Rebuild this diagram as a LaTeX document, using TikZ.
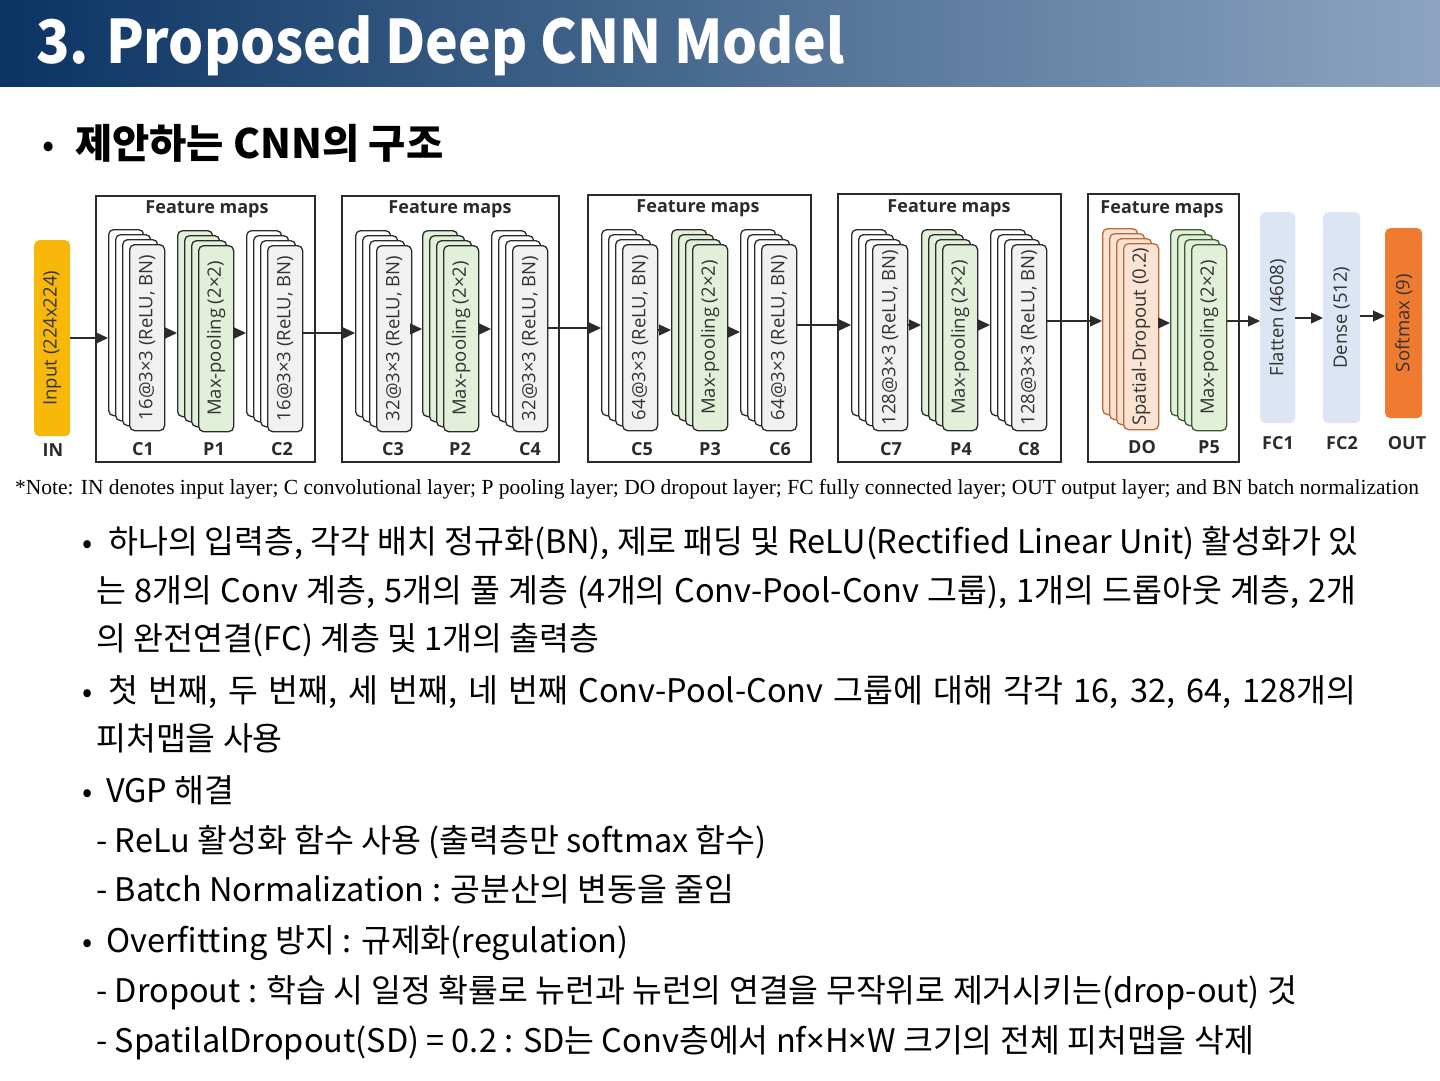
\documentclass[tikz,border=0pt]{standalone}
\usepackage{fontspec}
\setmainfont{Noto Sans CJK KR}
\newfontfamily\figfont{Open Sans}
\newfontfamily\notefont{Liberation Serif}
\newfontfamily\latfont{Noto Sans}
\usetikzlibrary{arrows.meta,calc}

\definecolor{navyL}{HTML}{0B3463}
\definecolor{navyR}{HTML}{8CA4C0}
\definecolor{inputc}{HTML}{F7B80A}
\definecolor{outc}{HTML}{EE7B30}
\definecolor{fcc}{HTML}{DCE5F3}
\definecolor{poolc}{HTML}{E2EFD9}
\definecolor{convc}{HTML}{F1F1F1}
\definecolor{dropc}{HTML}{FBE3D3}
\definecolor{dropd}{HTML}{B86A3C}
\definecolor{poold}{HTML}{3E5A30}
\definecolor{ink}{HTML}{2B2B2B}
\definecolor{txtc}{HTML}{333333}

\newcommand\ltxt[1]{\rotatebox{90}{\figfont\fontsize{18.5}{18.5}\selectfont\color{txtc}#1}}

\tikzset{
  layer/.style={rounded corners=5pt, line width=1.3pt, minimum width=35pt,
    minimum height=186pt, inner sep=0pt, anchor=north west},
  fmbox/.style={draw=ink, line width=1.6pt, anchor=north west, inner sep=0pt},
  fmtitle/.style={font=\figfont\bfseries\fontsize{18}{18}\selectfont, text=ink},
  lab/.style={font=\figfont\bfseries\fontsize{18}{18}\selectfont, text=ink},
  solid/.style={rounded corners=5pt, inner sep=0pt, anchor=north west},
  arr/.style={draw=ink, line width=1.1pt, -{Triangle[length=12pt,width=11pt]}},
  body/.style={anchor=base west, inner sep=0pt, font=\fontsize{32.5}{34}\selectfont, text=black},
  bul/.style={anchor=base west, inner sep=0pt, font=\fontsize{30}{30}\selectfont, text=black}
}

% stack of four offset layer sheets; #1 name, #2/#3 top-left of front sheet,
% #4 fill of back sheets, #5 fill of front sheet, #6 stroke, #7 text
\newcommand\fmstack[7]{%
  \foreach \k/\s in {3/a,2/b,1/c}{%
    \node[layer, fill=#4, draw=#6] (#1-\s) at ({#2-7*\k},{#3-5*\k}) {};
  }
  \node[layer, fill=#5, draw=#6] (#1) at (#2,#3) {\ltxt{#7}};
}
% horizontal arrow from one node to the next at height #3
\newcommand\harrow[3]{\draw[arr] (#1.east |- 0,#3) -- (#2.west |- 0,#3);}

\begin{document}
\begin{tikzpicture}[x=1pt,y=-1pt]
\useasboundingbox (0,0) rectangle (1440,1080);
\fill[white] (0,0) rectangle (1440,1080);

% header band
\shade[left color=navyL, right color=navyR] (0,0) rectangle (1440,86);
\node[anchor=base west, inner sep=0pt, text=white,
  font=\bfseries\fontsize{60}{60}\selectfont] (title) at (36,63) {\scalebox{0.92}[1]{3. Proposed Deep CNN Model}};

% section heading
\node[anchor=base west, inner sep=0pt, font=\fontsize{36}{36}\selectfont] (hb) at (42,157) {•};
\node[anchor=base west, inner sep=0pt, font=\bfseries\fontsize{40.5}{40}\selectfont] (head) at (75,158) {제안하는 CNN의 구조};

% feature-map frames
\node[fmbox, minimum width=219pt, minimum height=266pt] (b1) at (95,195) {};
\node[fmbox, minimum width=217pt, minimum height=266pt] (b2) at (341,195) {};
\node[fmbox, minimum width=223pt, minimum height=267pt] (b3) at (587,194) {};
\node[fmbox, minimum width=223pt, minimum height=268pt] (b4) at (837,193) {};
\node[fmbox, minimum width=151pt, minimum height=268pt] (b5) at (1087,193) {};
\node[fmtitle] (t1) at (207,209) {Feature maps};
\node[fmtitle] (t2) at (450,209) {Feature maps};
\node[fmtitle] (t3) at (698,208) {Feature maps};
\node[fmtitle] (t4) at (949,208) {Feature maps};
\node[fmtitle] (t5) at (1162,209) {Feature maps};

% input
\node[solid, fill=inputc, minimum width=36pt, minimum height=196pt] (in) at (34,240)
  {\ltxt{Input (224x224)}};

% layer stacks
\fmstack{c1}{129}{244}{white}{convc}{ink}{16@3×3 (ReLU, BN)}
\fmstack{p1}{198}{245}{poolc}{poolc}{ink}{Max-pooling (2×2)}
\fmstack{c2}{267}{245}{white}{convc}{ink}{16@3×3 (ReLU, BN)}
\fmstack{c3}{376}{245}{white}{convc}{ink}{32@3×3 (ReLU, BN)}
\fmstack{p2}{443}{245}{poolc}{poolc}{ink}{Max-pooling (2×2)}
\fmstack{c4}{512}{245}{white}{convc}{ink}{32@3×3 (ReLU, BN)}
\fmstack{c5}{622}{244}{white}{convc}{ink}{64@3×3 (ReLU, BN)}
\fmstack{p3}{692}{244}{poolc}{poolc}{ink}{Max-pooling (2×2)}
\fmstack{c6}{761}{244}{white}{convc}{ink}{64@3×3 (ReLU, BN)}
\fmstack{c7}{872}{244}{white}{convc}{ink}{128@3×3 (ReLU, BN)}
\fmstack{p4}{942}{244}{poolc}{poolc}{ink}{Max-pooling (2×2)}
\fmstack{c8}{1011}{244}{white}{convc}{ink}{128@3×3 (ReLU, BN)}
\fmstack{do}{1123}{243}{dropc}{dropc}{dropd}{Spatial-Dropout (0.2)}
\fmstack{p5}{1191}{244}{poolc}{poolc}{poold}{Max-pooling (2×2)}

% dense layers
\node[solid, fill=fcc, minimum width=35pt, minimum height=211pt] (fc1) at (1260,212)
  {\ltxt{Flatten (4608)}};
\node[solid, fill=fcc, minimum width=37pt, minimum height=211pt] (fc2) at (1323,212)
  {\ltxt{Dense (512)}};
\node[solid, fill=outc, minimum width=37pt, minimum height=190pt] (out) at (1385,228)
  {\ltxt{Softmax (9)}};

% layer tags
\node[lab] (lin) at (53,450) {IN};
\node[lab] (lc1) at (143,449) {C1};
\node[lab] (lp1) at (214,449) {P1};
\node[lab] (lc2) at (282,449) {C2};
\node[lab] (lc3) at (393,449) {C3};
\node[lab] (lp2) at (460,449) {P2};
\node[lab] (lc4) at (530,449) {C4};
\node[lab] (lc5) at (642,449) {C5};
\node[lab] (lp3) at (710,449) {P3};
\node[lab] (lc6) at (780,449) {C6};
\node[lab] (lc7) at (891,449) {C7};
\node[lab] (lp4) at (961,449) {P4};
\node[lab] (lc8) at (1029,449) {C8};
\node[lab] (ldo) at (1142,447) {DO};
\node[lab] (lp5) at (1209,447) {P5};
\node[lab] (lf1) at (1278,443) {FC1};
\node[lab] (lf2) at (1342,443) {FC2};
\node[lab] (lout) at (1407,443) {OUT};

% data flow
\harrow{in}{c1-a}{338}
\harrow{c1}{p1-a}{333}
\harrow{p1}{c2-a}{333}
\harrow{c2}{c3-a}{333}
\harrow{c3}{p2-a}{329}
\harrow{p2}{c4-a}{329}
\harrow{c4}{c5-a}{328}
\harrow{c5}{p3-a}{330}
\harrow{p3}{c6-a}{332}
\harrow{c6}{c7-a}{325}
\harrow{c7}{p4-a}{325}
\harrow{p4}{c8-a}{325}
\harrow{c8}{do-a}{321}
\harrow{do}{p5-a}{323}
\harrow{p5}{fc1}{321}
\harrow{fc1}{fc2}{318}
\harrow{fc2}{out}{316}

% footnote
\node[anchor=base west, inner sep=0pt, font=\notefont\fontsize{21.5}{22}\selectfont] (note) at (15,494)
  {*Note: IN denotes input layer; C convolutional layer; P pooling layer; DO dropout layer; FC fully connected layer; OUT output layer; and BN batch normalization};

% description
\node[bul] (d1b) at (82,553) {•};
\node[body] (d1) at (108,553) {\makebox[1250pt][s]{하나의 입력층, 각각 배치 정규화(BN), 제로 패딩 및 ReLU(Rectified Linear Unit) 활성화가 있}};
\node[body] (d2) at (96,602) {\makebox[1260pt][s]{는 8개의 Conv 계층, 5개의 풀 계층 (4개의 Conv-Pool-Conv 그룹), 1개의 드롭아웃 계층, 2개}};
\node[body] (d3) at (96,650) {의 완전연결(FC) 계층 및 1개의 출력층};
\node[bul] (d4b) at (82,702) {•};
\node[body] (d4) at (108,702) {\makebox[1248pt][s]{첫 번째, 두 번째, 세 번째, 네 번째 Conv-Pool-Conv 그룹에 대해 각각 16, 32, 64, 128개의}};
\node[body] (d5) at (96,750) {피처맵을 사용};
\node[bul] (d6b) at (82,802) {•};
\node[body] (d6) at (106,802) {VGP 해결};
\node[body] (d7) at (96,852) {- ReLu 활성화 함수 사용 (출력층만 softmax 함수)};
\node[body] (d8) at (96,901) {- Batch Normalization : 공분산의 변동을 줄임};
\node[bul] (d9b) at (82,952) {•};
\node[body] (d9) at (106,952) {Overfitting 방지 : 규제화(regulation)};
\node[body] (d10) at (96,1002) {- Dropout : 학습 시 일정 확률로 뉴런과 뉴런의 연결을 무작위로 제거시키는(drop-out) 것};
\node[body] (d11) at (96,1052) {- SpatilalDropout(SD) = 0.2 : SD는 Conv층에서 nf{\latfont ×}H{\latfont ×}W 크기의 전체 피처맵을 삭제};
\end{tikzpicture}
\end{document}
